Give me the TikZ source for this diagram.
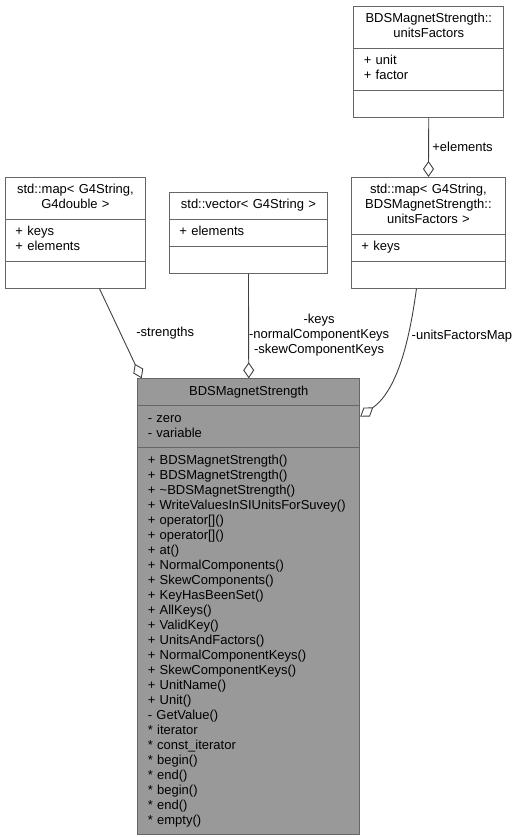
\documentclass[tikz,border=0pt]{standalone}
\usepackage{fontspec}
\setmainfont{Liberation Sans}
\usetikzlibrary{shapes.multipart, arrows.meta, calc}

\definecolor{boxline}{HTML}{666666}
\definecolor{boxfill}{HTML}{999999}
\definecolor{edgeline}{HTML}{404040}

\newcommand{\umlfont}{\fontsize{13}{15}\selectfont}

\tikzstyle{umlclass} = [rectangle split, rectangle split parts=3, draw=boxline, fill=white, line width=0.9pt, inner xsep=10pt, inner ysep=5.5pt, anchor=north west, font=\umlfont]
\tikzstyle{agg} = [draw=edgeline, line width=0.9pt, -{Diamond[length=16pt, width=11pt, fill=white]}]
\tikzstyle{role} = [font=\umlfont, text=black]

\begin{document}
\begin{tikzpicture}[x=1pt, y=-1pt]

\useasboundingbox (0,0) rectangle (519,837);

\node [umlclass, text width=130pt] (uf) at (353.3,6) {\centering\strut BDSMagnetStrength::\\unitsFactors\strut\par
\nodepart{two}\strut + unit\\+ factor\strut
\nodepart{three}\strut};

\node [umlclass, text width=120pt] (smap) at (5,177) {\centering\strut std::map< G4String,\\G4double >\strut\par
\nodepart{two}\strut + keys\\+ elements\strut
\nodepart{three}\strut};

\node [umlclass, text width=138pt] (vec) at (169,192) {\centering\strut std::vector< G4String >\strut\par
\nodepart{two}\strut + elements\strut
\nodepart{three}\strut};

\node [umlclass, text width=134pt] (ufmap) at (351,177) {\centering\strut std::map< G4String,\\BDSMagnetStrength::\\unitsFactors >\strut\par
\nodepart{two}\strut + keys\strut
\nodepart{three}\strut};

\node [umlclass, fill=boxfill, text width=202pt] (bms) at (137.3,378.3) {\centering\strut BDSMagnetStrength\strut\par
\nodepart{two}\strut - zero\\- variable\strut
\nodepart{three}\strut + BDSMagnetStrength()\\+ BDSMagnetStrength()\\+ \char`\~BDSMagnetStrength()\\+ WriteValuesInSIUnitsForSuvey()\\+ operator[]()\\+ operator[]()\\+ at()\\+ NormalComponents()\\+ SkewComponents()\\+ KeyHasBeenSet()\\+ AllKeys()\\+ ValidKey()\\+ UnitsAndFactors()\\+ NormalComponentKeys()\\+ SkewComponentKeys()\\+ UnitName()\\+ Unit()\\- GetValue()\\{*} iterator\\{*} const\_iterator\\{*} begin()\\{*} end()\\{*} begin()\\{*} end()\\{*} empty()\strut};

\draw [agg] (uf.south) -- node [role, right] {+elements} (ufmap.north);

\draw [agg] ($(smap.south)+(24,0)$) -- node [role, right, xshift=12pt] {-strengths} ($(bms.north west)+(4.4,0)$);

\draw [agg] (vec.south) -- node [role, pos=0.59, anchor=west, inner sep=0pt, align=center] {-keys\\-normalComponentKeys\\-skewComponentKeys} (bms.north);

\draw [agg] ($(ufmap.south)+(-12,0)$) .. controls +(-8,60) and +(35,-25) .. node [role, pos=0.285, anchor=west] {-unitsFactorsMap} ($(bms.north east)+(0,38.4)$);

\end{tikzpicture}
\end{document}
